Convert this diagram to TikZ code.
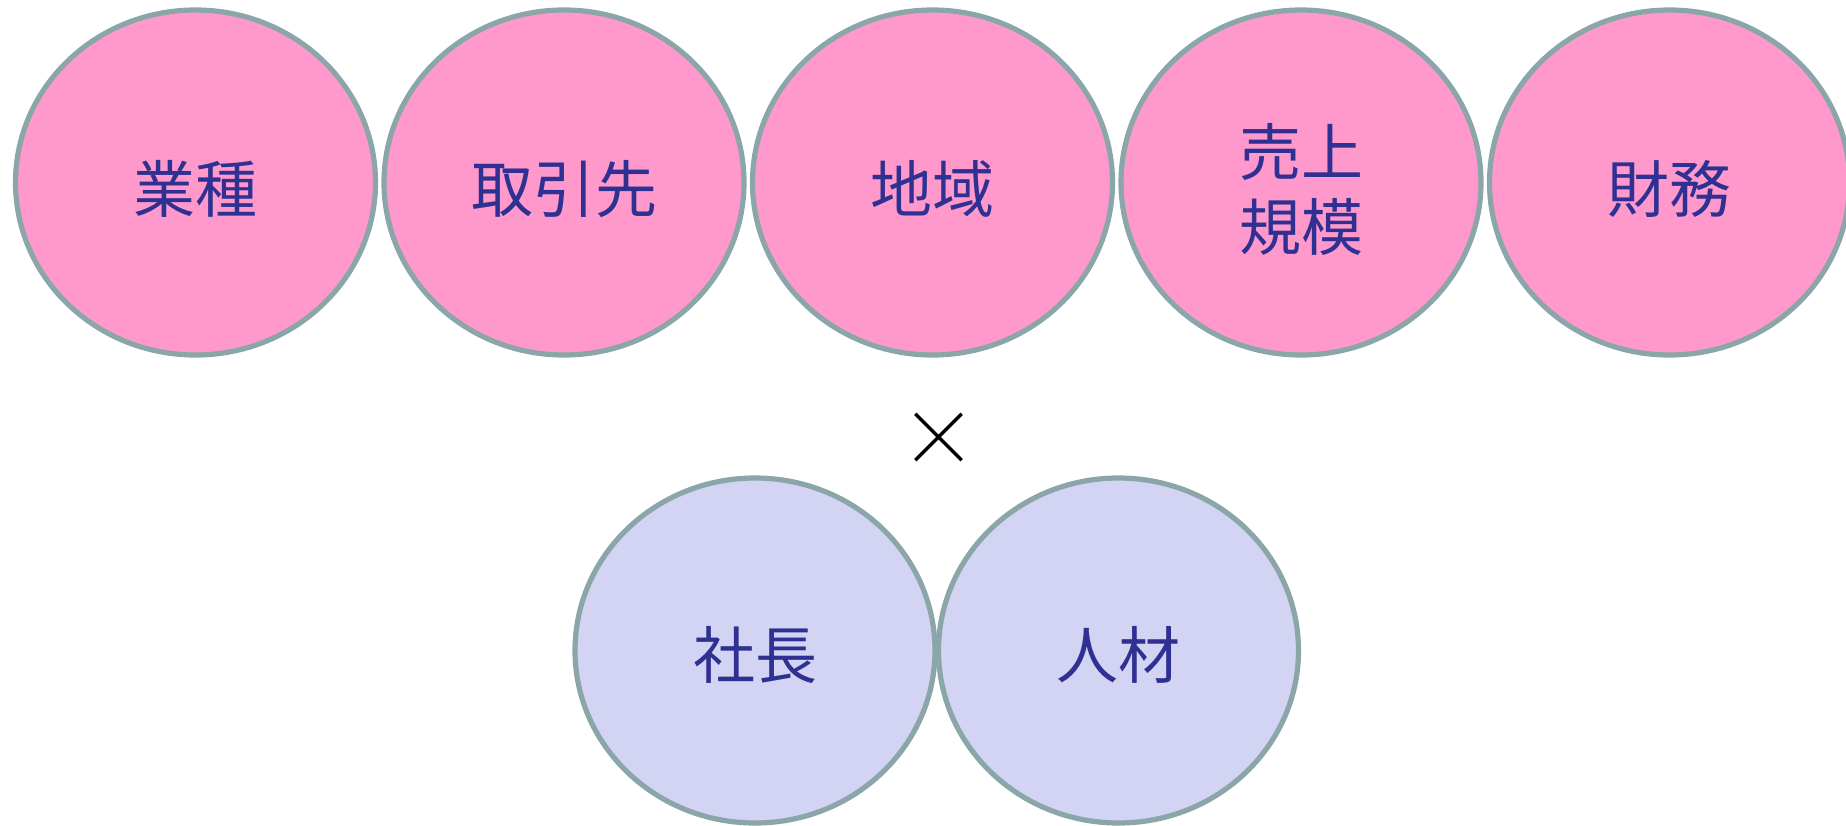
\documentclass[tikz,border=0pt]{standalone}
\usepackage{fontspec}
\newfontfamily\cjk{Noto Sans CJK JP}
\usetikzlibrary{shapes.geometric,shapes.misc}
\definecolor{pinkfill}{HTML}{FF99CC}
\definecolor{lavfill}{HTML}{D3D3F3}
\definecolor{rimcol}{HTML}{8AA6A8}
\definecolor{txtcol}{HTML}{2E3192}
\tikzset{
  blob/.style={ellipse, draw=rimcol, line width=5.2pt, inner sep=0pt,
    minimum width=360pt, minimum height=345pt},
  topblob/.style={blob, fill=pinkfill},
  botblob/.style={blob, fill=lavfill},
  lbl/.style={text=txtcol, inner sep=0pt, font=\cjk\fontsize{62}{74}\selectfont, align=center},
  crossmark/.style={cross out, draw=black, line width=3.4pt, minimum size=43pt, inner sep=0pt}
}
\begin{document}
\begin{tikzpicture}[x=1pt,y=-1pt]
\useasboundingbox (0,0) rectangle (1846,825);
\node[topblob] (a) at (195.5,182.5) {};
\node[topblob] (b) at (564,182.5) {};
\node[topblob] (c) at (932.5,182.5) {};
\node[topblob] (d) at (1301,182.5) {};
\node[topblob] (e) at (1669.5,182.5) {};
\node[lbl] (ta) at (195.5,189) {業種};
\node[lbl] (tb) at (564,189) {取引先};
\node[lbl] (tc) at (932.5,189) {地域};
\node[lbl] (td) at (1301,189) {売上\\[1pt]規模};
\node[lbl] (te) at (1669.5,189) {財務};
\node[crossmark] (x) at (938.5,437) {};
\node[botblob] (f) at (755,650.5) {};
\node[botblob] (g) at (1118.5,650.5) {};
\node[lbl] (tf) at (755,655) {社長};
\node[lbl] (tg) at (1118.5,655) {人材};
\end{tikzpicture}
\end{document}
